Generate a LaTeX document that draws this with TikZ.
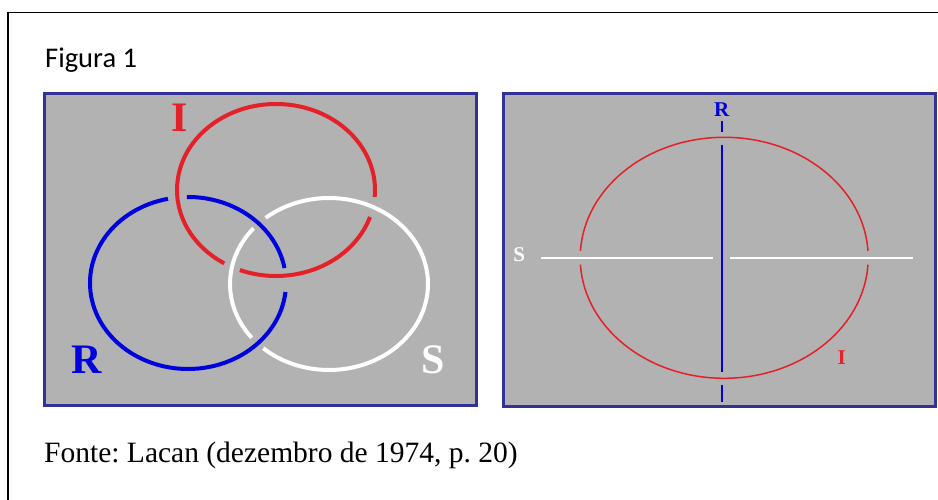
\documentclass[tikz,border=0pt]{standalone}
\usepackage{fontspec}
\setmainfont{Liberation Serif}
\newfontfamily\calibri{Carlito}
\usetikzlibrary{positioning}

\definecolor{panelgray}{RGB}{178,178,178}
\definecolor{panelblue}{RGB}{50,50,150}
\definecolor{ringred}{RGB}{228,32,40}
\definecolor{ringblue}{RGB}{0,0,222}

\begin{document}
\frenchspacing
\begin{tikzpicture}[x=1pt, y=1pt,
    panel/.style={draw=panelblue, line width=3pt, fill=panelgray},
    ring/.style={line width=4pt},
    thinring/.style={line width=1.5pt},
    axis/.style={line width=2pt},
    letter/.style={inner sep=0pt, anchor=base, font=\fontsize{42}{42}\selectfont\bfseries},
    smallletter/.style={inner sep=0pt, anchor=base, font=\fontsize{21}{21}\selectfont\bfseries}
  ]
  \useasboundingbox (0,0) rectangle (938,500);
  \clip (0,0) rectangle (938,500);

  % Frame and captions
  \draw[line width=1.5pt] (8,-20) -- (8,487.5) -- (960,487.5);
  \node[anchor=base west, inner sep=0pt, font=\calibri\fontsize{28.5}{28.5}\selectfont] (title) at (45,432.7) {Figura 1};
  \node[anchor=base west, inner sep=0pt, font=\fontsize{29.5}{29.5}\selectfont] (source) at (44,37.7) {Fonte: Lacan (dezembro de 1974, p. 20)};

  % Panels
  \draw[panel] (44,406.5) rectangle (476,94.5);
  \draw[panel] (503.5,406.5) rectangle (935.5,93.5);

  % Borromean knot
  \coordinate (cI) at (276,310);
  \coordinate (cR) at (188,217);
  \coordinate (cS) at (329,216);
  \draw[ring, ringred] ([shift={(-4.7:99 and 86)}]cI) arc[start angle=-4.7, end angle=238.5, x radius=99, y radius=86];
  \draw[ring, ringred] ([shift={(248.6:99 and 86)}]cI) arc[start angle=248.6, end angle=341.7, x radius=99, y radius=86];
  \draw[ring, ringblue] ([shift={(10:98 and 86)}]cR) arc[start angle=10, end angle=90.6, x radius=98, y radius=86];
  \draw[ring, ringblue] ([shift={(101.8:98 and 86)}]cR) arc[start angle=101.8, end angle=354, x radius=98, y radius=86];
  \draw[ring, white] ([shift={(139.6:99 and 86)}]cS) arc[start angle=139.6, end angle=218.7, x radius=99, y radius=86];
  \draw[ring, white] ([shift={(228.4:99 and 86)}]cS) arc[start angle=228.4, end angle=489.8, x radius=99, y radius=86];
  \node[letter, ringred] (I) at (180,368.3) {I};
  \node[letter, ringblue] (R) at (87,126.7) {R};
  \node[letter, white] (S) at (433,126.5) {S};

  % Flattened knot
  \coordinate (c) at (724.2,242.2);
  \draw[thinring, ringred] ([shift={(3.3:144 and 120.5)}]c) arc[start angle=3.3, end angle=176.7, x radius=144, y radius=120.5];
  \draw[thinring, ringred] ([shift={(183.3:144 and 120.5)}]c) arc[start angle=183.3, end angle=356.7, x radius=144, y radius=120.5];
  \draw[axis, white] (541,241.7) -- (713.3,241.7);
  \draw[axis, white] (730,241.7) -- (913.3,241.7);
  \draw[axis, ringblue] (721.7,379) -- (721.7,368.3);
  \draw[axis, ringblue] (721.7,355) -- (721.7,128.3);
  \draw[axis, ringblue] (721.7,115) -- (721.7,98.3);
  \node[smallletter, ringblue] (r) at (721.7,383) {R};
  \node[smallletter, white] (s) at (519.3,238) {S};
  \node[smallletter, ringred] (i) at (841.7,135) {I};
\end{tikzpicture}
\end{document}
